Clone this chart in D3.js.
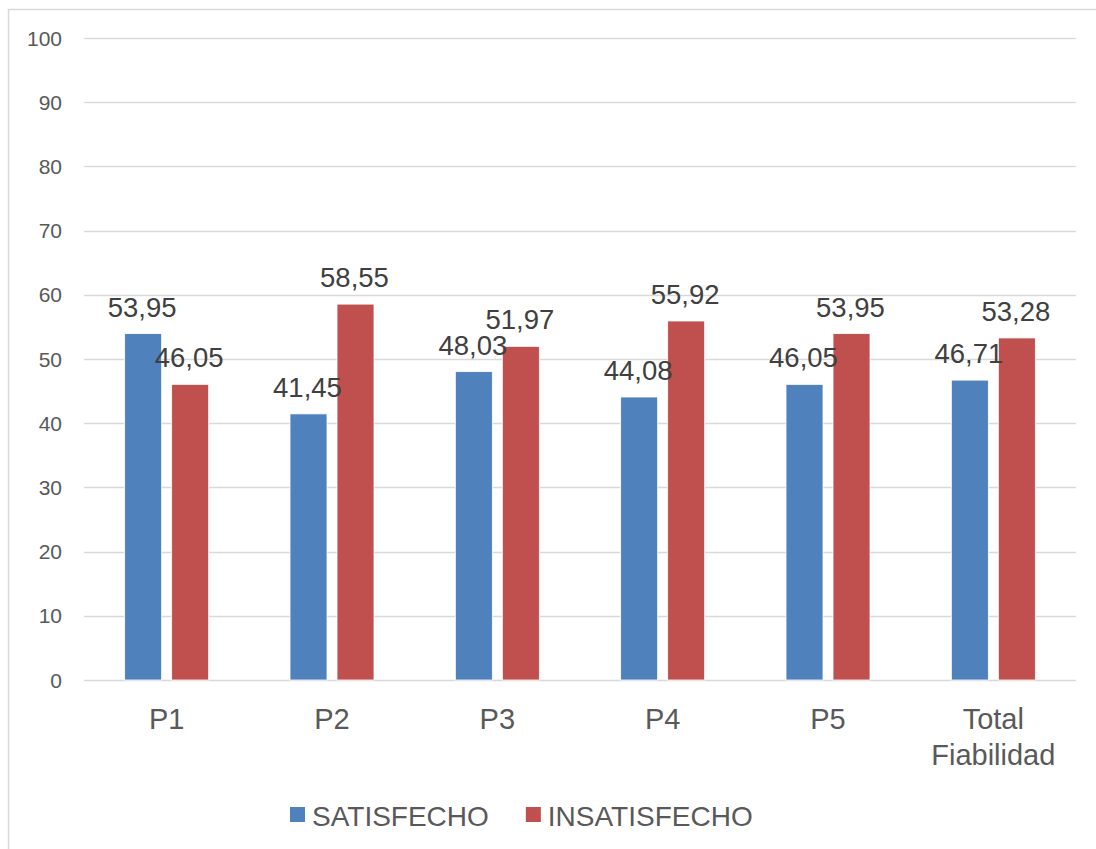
<!DOCTYPE html>
<html><head><meta charset="utf-8">
<script src="https://cdn.jsdelivr.net/npm/d3@7"></script>
<style>body{margin:0;background:#fff;}svg{display:block;font-family:"Liberation Sans",Arial,sans-serif;}</style>
</head><body>
<svg id="c" width="1096" height="849"></svg>
<script>
const categories = ["P1","P2","P3","P4","P5","Total Fiabilidad"];
const satisfecho = [53.95,41.45,48.03,44.08,46.05,46.71];
const insatisfecho = [46.05,58.55,51.97,55.92,53.95,53.28];
const seriesNames = ["SATISFECHO","INSATISFECHO"];
const colors = ["#4f81bd","#c0504d"];
const yTicks = [0,10,20,30,40,50,60,70,80,90,100];

const svg = d3.select("#c");
svg.append("rect").attr("x",8.5).attr("y",9.5).attr("width",1100).attr("height",900)
  .attr("fill","#fff").attr("stroke","#d9d9d9").attr("stroke-width",1.5);

const pLeft=84, pRight=1076, pTop=38, pBottom=680;
const x = d3.scaleBand().domain(categories).range([pLeft,pRight]);
const y = d3.scaleLinear().domain([0,100]).range([pBottom,pTop]);

// gridlines
svg.append("g").selectAll("line").data(yTicks).join("line")
  .attr("x1",pLeft).attr("x2",pRight)
  .attr("y1",d=>Math.round(y(d))+0.5).attr("y2",d=>Math.round(y(d))+0.5)
  .attr("stroke","#d9d9d9").attr("stroke-width",1.5);
svg.append("g").selectAll("text").data(yTicks).join("text")
  .attr("x",62).attr("y",d=>y(d)+7.5).attr("text-anchor","end")
  .attr("font-size",21).attr("fill","#595959").text(d=>d);

const barW=37, gap=10;
const data=[satisfecho,insatisfecho];
const barsG=svg.append("g"), labelsG=svg.append("g");
data.forEach((vals,si)=>{
  vals.forEach((v,i)=>{
    const cx=x(categories[i])+x.bandwidth()/2;
    const bx = si===0 ? cx-gap/2-barW : cx+gap/2;
    barsG.append("rect").attr("x",bx).attr("y",y(v)).attr("width",barW).attr("height",y(0)-y(v))
      .attr("fill",colors[si]).attr("stroke","#fff").attr("stroke-width",0.8);
    labelsG.append("text").attr("x",bx+barW/2-1).attr("y",y(v)-17).attr("text-anchor","middle")
      .attr("font-size",27.5).attr("fill","#404040").text(d3.format(".2f")(v).replace(".",","));
  });
});

// category labels
categories.forEach(c=>{
  const cx=x(c)+x.bandwidth()/2;
  const words = c==="Total Fiabilidad" ? ["Total","Fiabilidad"] : [c];
  words.forEach((w,k)=>{
    svg.append("text").attr("x",cx).attr("y",729+k*36).attr("text-anchor","middle")
      .attr("font-size",29).attr("fill","#595959").text(w);
  });
});

// legend
const lg=svg.append("g");
let lx=290;
seriesNames.forEach((n,i)=>{
  lg.append("rect").attr("x",lx).attr("y",807).attr("width",15).attr("height",15).attr("fill",colors[i]);
  const t=lg.append("text").attr("x",lx+22).attr("y",826).attr("font-size",28).attr("fill","#595959").text(n);
  lx += 22 + t.node().getComputedTextLength() + 37;
});
</script>
</body></html>
